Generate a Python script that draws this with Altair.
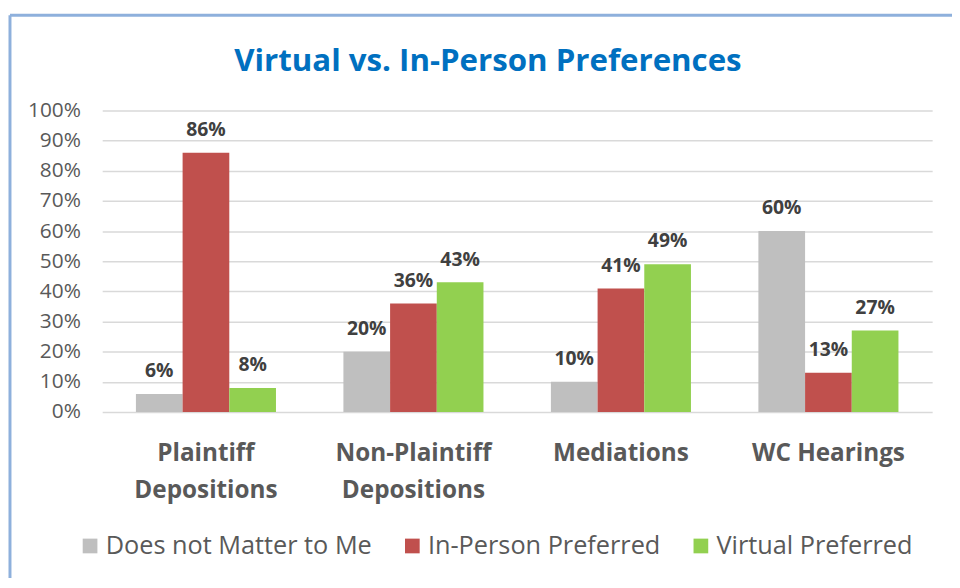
import altair as alt
import pandas as pd

categories = ["Plaintiff Depositions", "Non-Plaintiff Depositions", "Mediations", "WC Hearings"]
series = ["Does not Matter to Me", "In-Person Preferred", "Virtual Preferred"]
does_not_matter = [0.06, 0.20, 0.10, 0.60]
in_person = [0.86, 0.36, 0.41, 0.13]
virtual = [0.08, 0.43, 0.49, 0.27]
colors = ["#BFBFBF", "#C0504D", "#92D050"]
y_ticks = [0, 0.1, 0.2, 0.3, 0.4, 0.5, 0.6, 0.7, 0.8, 0.9, 1.0]
title_text = "Virtual vs. In-Person Preferences"

rows = []
for i, c in enumerate(categories):
    for s, vals in zip(series, [does_not_matter, in_person, virtual]):
        rows.append({"category": c, "series": s, "value": vals[i]})
df = pd.DataFrame(rows)

FONT = "Open Sans"
W, H = 837, 304

x_enc = alt.X(
    "category:N",
    sort=categories,
    scale=alt.Scale(paddingInner=0.325, paddingOuter=0.1625),
    axis=alt.Axis(
        title=None,
        labelExpr="datum.label == 'WC Hearings' ? datum.label : split(datum.label, ' ')",
        labelAngle=0,
        labelFont=FONT,
        labelFontSize=24.5,
        labelFontWeight="bold",
        labelColor="#595959",
        labelPadding=30,
        labelLineHeight=37,
        labelBaseline="top",
        labelLimit=400,
        ticks=False,
        domain=False,
        grid=False,
    ),
)
y_enc = alt.Y(
    "value:Q",
    scale=alt.Scale(domain=[0, 1], nice=False),
    axis=alt.Axis(
        title=None,
        values=y_ticks,
        format=".0%",
        labelFont=FONT,
        labelFontSize=21,
        labelColor="#595959",
        labelPadding=22,
        ticks=False,
        domain=False,
        grid=True,
        gridColor="#D9D9D9",
        gridWidth=1.5,
    ),
)
xoff = alt.XOffset("series:N", sort=series, scale=alt.Scale(paddingInner=0, paddingOuter=0))
color_enc = alt.Color(
    "series:N",
    sort=series,
    scale=alt.Scale(domain=series, range=colors),
    legend=alt.Legend(
        title=None,
        orient="none",
        legendX=-25,
        legendY=426,
        direction="horizontal",
        symbolType="square",
        symbolSize=220,
        symbolStrokeWidth=0,
        labelFont=FONT,
        labelFontSize=25.5,
        labelColor="#595959",
        labelOffset=3,
        labelLimit=500,
        columnPadding=27,
    ),
)

bars = alt.Chart(df).mark_bar().encode(x=x_enc, xOffset=xoff, y=y_enc, color=color_enc)
labels = alt.Chart(df).mark_text(
    dy=-13, baseline="bottom", font=FONT, fontSize=19.5, fontWeight="bold", color="#404040"
).encode(x=x_enc, xOffset=xoff, y=y_enc, text=alt.Text("value:Q", format=".0%"))

deco = pd.DataFrame({"k": [0]})
left_border = alt.Chart(deco).mark_rule(color="#8EB0DC", strokeWidth=3).encode(
    x=alt.value(-93), y=alt.value(-96), y2=alt.value(H + 200)
)
top_border = alt.Chart(deco).mark_rule(color="#8EB0DC", strokeWidth=3).encode(
    x=alt.value(-93), x2=alt.value(W + 40), y=alt.value(-96)
)
title = alt.Chart(pd.DataFrame({"t": [title_text]})).mark_text(
    font=FONT, fontSize=31.5, fontWeight="bold", color="#0070C0", align="center", baseline="alphabetic"
).encode(x=alt.value(389), y=alt.value(-40), text="t:N")

chart = alt.layer(left_border, top_border, title, bars, labels).properties(
    width=W,
    height=H,
    autosize=alt.AutoSizeParams(type="none"),
    padding={"left": 95, "top": 101, "right": 20, "bottom": 165},
).configure(background="white", view=alt.ViewConfig(stroke=None))

chart.save("out.html", embed_options={"renderer": "svg", "actions": False})
